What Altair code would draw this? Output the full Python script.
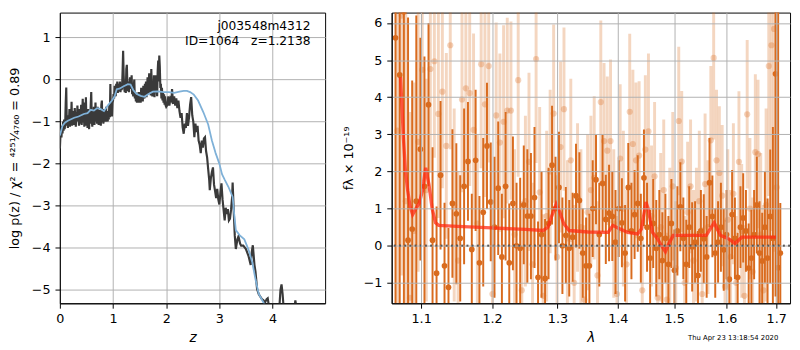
import altair as alt
import pandas as pd

# ---------------- left panel: log p(z) ----------------
# (z, log p(z))
pz_points = [
    (0.00, -1.64), (0.01, -1.35), (0.02, -1.25), (0.03, -1.38), (0.04, -1.10),
    (0.05, -1.28), (0.06, -1.00), (0.07, -1.22), (0.08, -0.95), (0.09, -1.18),
    (0.10, -1.05), (0.11, -0.55), (0.12, -0.19), (0.13, -1.10), (0.14, -0.90),
    (0.15, -1.15), (0.16, -0.85), (0.17, -1.05), (0.18, -0.70), (0.19, -1.12),
    (0.20, -0.88), (0.21, -1.00), (0.22, -0.53), (0.23, -1.10), (0.24, -0.80),
    (0.25, -1.02), (0.26, -0.75), (0.27, -1.08), (0.28, -0.68), (0.29, -0.95),
    (0.30, -1.12), (0.31, -0.78), (0.32, -1.00), (0.33, -0.62), (0.34, -0.98),
    (0.35, -0.85), (0.36, -1.10), (0.37, -0.70), (0.38, -1.05), (0.39, -0.90),
    (0.40, -0.60), (0.41, -1.08), (0.42, -0.80), (0.43, -0.46), (0.44, -1.02),
    (0.45, -0.72), (0.46, -1.12), (0.47, -0.55), (0.48, -0.95), (0.49, -0.42),
    (0.50, -1.10), (0.51, -0.85), (0.52, -1.15), (0.53, -0.70), (0.54, -1.00),
    (0.55, -1.18), (0.56, -0.75), (0.57, -1.05), (0.58, -0.60), (0.59, -0.30),
    (0.60, -0.95), (0.61, -1.12), (0.62, -0.78), (0.63, -1.05), (0.64, -0.65),
    (0.65, -1.08), (0.66, -0.90), (0.67, -0.55), (0.68, -1.00), (0.69, -0.80),
    (0.70, -1.05), (0.71, -0.65), (0.72, -0.95), (0.73, -1.08), (0.74, -0.72),
    (0.75, -1.00), (0.76, -0.85), (0.77, -1.10), (0.78, -0.60), (0.79, -0.50),
    (0.80, -1.02), (0.81, -0.80), (0.82, -1.05), (0.83, -0.70), (0.84, -0.98),
    (0.85, -0.88), (0.86, -1.00), (0.87, -0.65), (0.88, -0.95), (0.89, -0.90),
    (0.90, -1.00), (0.91, -0.75), (0.92, -0.95), (0.93, -0.60), (0.94, -0.90),
    (0.95, -0.11), (0.96, -0.85), (0.97, -0.70), (0.98, -0.88), (0.99, -0.55),
    (1.00, -0.50), (1.01, -0.35), (1.02, -0.45), (1.03, -0.15), (1.04, -0.30),
    (1.05, -0.40), (1.06, -0.10), (1.07, -0.30), (1.08, -0.05), (1.09, -0.32),
    (1.10, -0.10), (1.11, -0.28), (1.12, -0.22), (1.13, -0.05), (1.14, -0.30),
    (1.15, -0.12), (1.16, -0.25), (1.17, -0.20), (1.18, 0.20), (1.19, 0.68),
    (1.20, 0.10), (1.21, -0.20), (1.22, -0.30), (1.23, -0.10), (1.24, -0.32),
    (1.25, 0.25), (1.26, 0.35), (1.27, -0.15), (1.28, -0.28), (1.29, -0.05),
    (1.30, -0.30), (1.31, -0.10), (1.32, 0.05), (1.33, -0.22), (1.34, -0.15),
    (1.35, 0.10), (1.36, -0.35), (1.37, -0.20), (1.38, -0.40), (1.39, -0.15),
    (1.40, 0.00), (1.41, -0.45), (1.42, -0.30), (1.43, -0.52), (1.44, -0.35),
    (1.45, -0.55), (1.46, -0.40), (1.47, -0.50), (1.48, -0.30), (1.49, -0.55),
    (1.50, -0.45), (1.51, -0.30), (1.52, -0.55), (1.53, -0.20), (1.54, -0.48),
    (1.55, -0.35), (1.56, -0.52), (1.57, -0.15), (1.58, -0.40), (1.59, -0.45),
    (1.60, -0.10), (1.61, -0.38), (1.62, -0.05), (1.63, -0.42), (1.64, -0.20),
    (1.65, 0.05), (1.66, -0.35), (1.67, -0.25), (1.68, 0.15), (1.69, -0.30),
    (1.70, -0.10), (1.71, -0.38), (1.72, 0.25), (1.73, -0.20), (1.74, -0.40),
    (1.75, -0.05), (1.76, -0.35), (1.77, 0.10), (1.78, -0.42), (1.79, -0.20),
    (1.80, 0.10), (1.81, -0.30), (1.82, -0.15), (1.83, -0.40), (1.84, 0.20),
    (1.85, 0.45), (1.86, -0.05), (1.87, 0.57), (1.88, 0.30), (1.89, -0.20),
    (1.90, -0.10), (1.91, -0.45), (1.92, -0.20), (1.93, -0.50), (1.94, -0.30),
    (1.95, -0.55), (1.96, -0.35), (1.97, -0.60), (1.98, -0.40), (1.99, -0.62),
    (2.00, -0.65), (2.02, -0.61), (2.04, -0.40), (2.06, -0.62), (2.08, -0.45),
    (2.10, -0.50), (2.11, -0.23), (2.13, -0.58), (2.15, -0.40), (2.17, -0.62),
    (2.19, -0.45), (2.21, -0.68), (2.23, -0.50), (2.25, -0.75), (2.27, -0.91),
    (2.29, -0.80), (2.31, -1.14), (2.33, -1.29), (2.35, -1.05), (2.37, -1.15),
    (2.39, -0.80), (2.41, -1.10), (2.43, -0.90), (2.45, -0.60), (2.47, -0.42),
    (2.49, -0.85), (2.51, -1.00), (2.53, -1.37), (2.55, -1.05), (2.57, -1.25),
    (2.59, -1.10), (2.61, -1.45), (2.63, -1.55), (2.65, -1.75), (2.67, -1.45),
    (2.69, -1.62), (2.71, -1.40), (2.73, -1.37), (2.75, -1.70), (2.77, -1.85),
    (2.79, -2.13), (2.81, -2.40), (2.82, -2.63), (2.84, -2.35), (2.86, -2.20),
    (2.88, -2.09), (2.90, -2.50), (2.92, -2.65), (2.94, -2.82), (2.96, -2.60),
    (2.98, -2.85), (3.00, -2.97), (3.02, -2.70), (3.04, -2.47), (3.06, -2.85),
    (3.08, -3.10), (3.10, -3.35), (3.12, -3.05), (3.14, -3.20), (3.16, -3.08),
    (3.18, -3.35), (3.20, -3.31), (3.22, -3.10), (3.24, -2.80), (3.25, -2.45),
    (3.27, -3.10), (3.29, -3.70), (3.31, -4.03), (3.34, -3.80), (3.36, -3.73),
    (3.39, -3.90), (3.41, -3.95), (3.45, -3.95), (3.50, -4.03), (3.55, -4.20),
    (3.59, -4.41), (3.61, -4.10), (3.63, -3.94), (3.66, -4.40), (3.68, -4.57),
    (3.71, -4.98), (3.74, -5.10), (3.76, -5.14), (3.80, -5.22), (3.83, -5.25),
    (3.86, -5.30), (3.89, -5.22), (3.91, -5.20), (3.94, -5.45), (3.98, -5.80),
    (4.05, -6.00), (4.12, -5.60), (4.15, -5.00), (4.17, -4.87), (4.19, -5.10),
    (4.22, -5.60), (4.30, -6.00), (4.40, -5.60), (4.43, -5.25), (4.46, -5.50),
    (4.50, -6.00),
]
# smooth template curve (light blue)
tmpl_z = [
    0.00, 0.05, 0.10, 0.15, 0.20, 0.27, 0.35, 0.45, 0.52, 0.58,
    0.64, 0.70, 0.76, 0.83, 0.90, 0.98, 1.03, 1.07, 1.12, 1.20,
    1.28, 1.33, 1.38, 1.44, 1.52, 1.59, 1.66, 1.75, 1.85, 1.95,
    2.05, 2.15, 2.25, 2.33, 2.39, 2.45, 2.52, 2.60, 2.70, 2.79,
    2.86, 2.93, 3.00, 3.05, 3.10, 3.17, 3.25, 3.28, 3.31, 3.38,
    3.47, 3.55, 3.62, 3.68, 3.74, 3.83, 3.90, 4.00,
]
tmpl_logp = [
    -1.33, -1.10, -1.02, -0.98, -0.95, -0.91, -0.88, -0.82, -0.80, -0.72,
    -0.74, -0.68, -0.70, -0.75, -0.62, -0.50, -0.40, -0.23, -0.22, -0.16,
    -0.11, -0.12, -0.25, -0.34, -0.39, -0.41, -0.35, -0.29, -0.28, -0.30,
    -0.30, -0.32, -0.29, -0.27, -0.27, -0.30, -0.36, -0.50, -0.78, -1.07,
    -1.45, -1.75, -2.00, -2.25, -2.38, -2.55, -2.79, -3.20, -3.58, -3.70,
    -3.80, -4.05, -4.35, -4.75, -5.09, -5.30, -5.45, -5.70,
]
z_ticks = [0, 1, 2, 3, 4]
logp_ticks = [-5, -4, -3, -2, -1, 0, 1]
label_name = "j003548m4312"
label_id = "ID=1064\u00a0\u00a0\u00a0z=1.2138"

# ---------------- right panel: spectrum ----------------
lam_a = [
    1.066, 1.0715, 1.077, 1.0825, 1.088, 1.0935, 1.099, 1.1045, 1.11, 1.1155,
    1.121, 1.1265, 1.132, 1.1375, 1.143, 1.1485, 1.154, 1.1595, 1.165, 1.1705,
    1.176, 1.1815, 1.187, 1.1925, 1.198, 1.2035, 1.209, 1.2145, 1.22, 1.2255,
    1.231, 1.2365, 1.242, 1.2475, 1.253, 1.2585, 1.264, 1.2695, 1.275, 1.2805,
    1.286, 1.2915, 1.297, 1.3025, 1.308, 1.3135, 1.319, 1.3245, 1.33, 1.3355,
    1.341, 1.3465, 1.352, 1.3575, 1.363, 1.3685, 1.374, 1.3795, 1.385, 1.3905,
    1.396, 1.4015, 1.407, 1.4125, 1.418, 1.4235, 1.429, 1.4345, 1.44, 1.4455,
    1.451, 1.4565, 1.462, 1.4675, 1.473, 1.4785, 1.484, 1.4895, 1.495, 1.5005,
    1.506, 1.5115, 1.517, 1.5225, 1.528, 1.5335, 1.539, 1.5445, 1.55, 1.5555,
    1.561, 1.5665, 1.572, 1.5775, 1.583, 1.5885, 1.594, 1.5995, 1.605, 1.6105,
    1.616, 1.6215, 1.627, 1.6325, 1.638, 1.6435, 1.649, 1.6545, 1.66, 1.6655,
    1.671, 1.6765, 1.682, 1.6875, 1.693, 1.6985, 1.704, 1.7085,
]
flux_a = [
    5.6, 4.6, 6.3, 0.15, 0.45, 1.2, 2.6, 1.6, 3.8, 0.15,
    -0.74, 1.9, -0.54, -1.12, 1.14, 0.86, 0.2, 1.6, 2.27, -0.1,
    2.3, -0.46, 0.9, 2.69, 1.18, 0.5, 1.55, -0.3, 1.6, -0.46,
    1.14, 0.0, -0.07, 1.1, 0.8, 0.8, 1.3, -0.85, 0.3, -0.88,
    0.6, 2.17, 1.0, 1.57, 0.0, 0.28, -0.07, 0.23, 1.35, 1.22,
    -0.2, -0.54, -0.54, 1.0, 1.78, 0.3, 1.68, 0.71, 0.88, 0.79,
    0.1, 1.0, 0.62, -0.2, 1.57, 0.4, 0.84, 1.14, 0.2, 1.83,
    0.5, -0.33, 0.6, -0.07, 0.3, -0.4, 0.2, -0.5, 0.6, -0.66,
    0.4, 1.05, 0.2, -0.5, 0.5, -0.03, 0.1, -0.8, 0.4, 0.19,
    -0.3, 1.7, 0.79, -0.2, 0.1, 0.5, -0.11, 0.3, -0.9, 0.84,
    0.2, -0.85, 0.5, 0.75, 0.4, -0.6, -0.33, 0.3, 1.1, -0.2,
    -0.41, 0.5, -0.33, 0.79, 0.2, 4.63, -0.59, -0.2,
]
err_a = [
    8, 7, 8, 6, 4, 5, 3, 3.5, 2.2, 2.5,
    1.8, 2.0, 1.7, 1.6, 2.0, 1.9, 1.7, 2.1, 1.6, 1.5,
    1.9, 1.8, 2.0, 1.7, 1.6, 1.9, 1.8, 1.7, 2.0, 1.6,
    1.8, 1.7, 1.9, 1.6, 1.8, 1.7, 1.9, 1.5, 1.7, 1.6,
    1.5, 1.6, 1.4, 1.5, 1.3, 1.3, 1.3, 1.2, 1.4, 1.3,
    1.2, 1.3, 1.4, 1.3, 1.2, 1.4, 1.3, 1.2, 1.3, 1.2,
    1.4, 1.3, 1.2, 1.3, 1.2, 1.3, 1.2, 1.3, 1.2, 1.3,
    1.2, 1.3, 1.2, 1.3, 1.2, 1.3, 1.2, 1.3, 1.2, 1.1,
    1.2, 1.2, 1.1, 1.2, 1.1, 1.2, 1.1, 1.2, 1.1, 1.2,
    1.1, 1.2, 1.1, 1.2, 1.1, 1.2, 1.1, 1.2, 1.1, 1.2,
    1.1, 1.2, 1.1, 1.2, 1.1, 1.2, 1.3, 1.2, 1.3, 1.4,
    1.3, 1.5, 1.6, 1.8, 3.0, 6, 8, 1.35,
]
lam_b = [
    1.0685, 1.074, 1.0795, 1.085, 1.0905, 1.096, 1.1015, 1.107, 1.1125, 1.118,
    1.1235, 1.129, 1.1345, 1.14, 1.1455, 1.151, 1.1565, 1.162, 1.1675, 1.173,
    1.1785, 1.184, 1.1895, 1.195, 1.2005, 1.206, 1.2115, 1.217, 1.2225, 1.228,
    1.2335, 1.239, 1.2445, 1.25, 1.2555, 1.261, 1.2665, 1.272, 1.2775, 1.283,
    1.2885, 1.294, 1.2995, 1.305, 1.3105, 1.316, 1.3215, 1.327, 1.3325, 1.338,
    1.3435, 1.349, 1.3545, 1.36, 1.3655, 1.371, 1.3765, 1.382, 1.3875, 1.393,
    1.3985, 1.404, 1.4095, 1.415, 1.4205, 1.426, 1.4315, 1.437, 1.4425, 1.448,
    1.4535, 1.459, 1.4645, 1.47, 1.4755, 1.481, 1.4865, 1.492, 1.4975, 1.503,
    1.5085, 1.514, 1.5195, 1.525, 1.5305, 1.536, 1.5415, 1.547, 1.5525, 1.558,
    1.5635, 1.569, 1.5745, 1.58, 1.5855, 1.591, 1.5965, 1.602, 1.6075, 1.613,
    1.6185, 1.624, 1.6295, 1.635, 1.6405, 1.646, 1.6515, 1.657, 1.6625, 1.668,
    1.6735, 1.679, 1.6845, 1.69, 1.6955, 1.701,
]
flux_b = [
    3.1, 6.2, 1.2, -1.4, 0.4, 2.8, 4.74, 1.5, 4.76, 4.97,
    3.55, 4.15, 2.69, 5.4, 1.1, -0.4, 3.94, 4.24, 4.11, 3.12,
    0.6, 4.89, 3.81, 4.84, -1.3, 3.51, 2.78, 3.34, 3.64, 3.64,
    0.3, 4.46, -1.2, 1.2, 2.26, -0.5, 5.03, 1.44, -1.35, 0.8,
    2.0, 3.56, -0.3, 2.66, 3.68, 0.2, 2.3, -1.0, 1.3, 0.5,
    -1.45, 0.9, 1.5, 1.83, -0.8, 3.87, 2.82, 2.56, 2.82, 0.6,
    -1.3, 2.35, 1.0, -0.5, 3.61, 2.74, 2.3, 2.43, -1.2, 2.59,
    3.08, 0.8, 1.87, -1.4, 0.5, 1.5, -1.45, 0.2, 1.6, -0.6,
    3.36, 2.27, -1.0, 0.9, 1.6, -0.4, 0.3, 1.2, -1.3, 1.66,
    0.5, 2.84, 5.06, 2.3, 1.96, 1.35, -1.1, 0.7, -0.3, 1.4,
    -1.0, 2.26, 0.4, -1.35, 3.54, 1.0, -0.7, 2.52, 2.47, 0.3,
    -1.2, 1.1, 4.84, 5.4, 5.84, 1.57,
]
err_b = [
    7, 7, 6, 5, 4, 3.5, 3, 3, 2.8, 2.6,
    2.8, 2.6, 2.5, 2.8, 2.6, 2.4, 2.5, 2.7, 2.5, 2.6,
    2.4, 2.8, 2.5, 2.6, 2.3, 2.5, 2.4, 2.6, 2.5, 2.4,
    2.3, 2.6, 2.4, 2.3, 2.4, 2.2, 2.8, 2.3, 2.2, 2.3,
    2.2, 2.4, 2.2, 2.3, 2.2, 2.1, 2.2, 2.1, 2.0, 2.1,
    2.0, 2.1, 2.0, 2.2, 2.0, 2.2, 2.1, 2.0, 2.2, 2.0,
    2.1, 2.0, 2.1, 2.0, 2.1, 2.0, 2.1, 2.0, 1.9, 2.0,
    2.1, 1.9, 2.0, 1.9, 2.0, 1.9, 1.8, 1.9, 2.0, 1.8,
    2.0, 1.9, 1.8, 1.9, 1.8, 1.9, 1.8, 1.9, 1.8, 1.9,
    1.8, 2.0, 2.2, 1.9, 1.8, 1.9, 1.8, 1.9, 1.8, 1.9,
    1.8, 1.9, 1.8, 1.9, 2.0, 1.9, 2.0, 2.1, 2.0, 2.2,
    2.3, 2.6, 3.5, 5, 6, 7,
]
model_lam = [
    1.0726, 1.0765, 1.0791, 1.0821, 1.0852, 1.0886, 1.0930, 1.0974, 1.1020, 1.1062,
    1.1106, 1.1150, 1.1196, 1.1240, 1.1500, 1.2000, 1.2500, 1.2774, 1.2850, 1.2910,
    1.2980, 1.3040, 1.3100, 1.3188, 1.3500, 1.3835, 1.3915, 1.4000, 1.4170, 1.4345,
    1.4410, 1.4460, 1.4490, 1.4530, 1.4606, 1.4696, 1.4770, 1.4840, 1.4900, 1.4983,
    1.5603, 1.5754, 1.5877, 1.6033, 1.6163, 1.6297, 1.7000,
]
model_flux = [
    4.54, 2.86, 2.0, 1.48, 1.06, 0.84, 1.0, 1.14, 1.5, 2.1,
    1.65, 1.0, 0.62, 0.55, 0.52, 0.48, 0.44, 0.41, 0.5, 0.8,
    1.12, 0.9, 0.6, 0.41, 0.37, 0.36, 0.55, 0.48, 0.36, 0.32,
    0.45, 0.9, 1.18, 1.0, 0.36, 0.19, 0.0, -0.16, 0.05, 0.28,
    0.28, 0.62, 0.28, 0.19, 0.06, 0.23, 0.23,
]
lam_ticks = [1.1, 1.2, 1.3, 1.4, 1.5, 1.6, 1.7]
flux_ticks = [-1, 0, 1, 2, 3, 4, 5, 6]
stamp = "Thu Apr 23 13:18:54 2020"

FONT = "DejaVu Sans"
ORANGE = "#d96b1e"
YTITLE_L = "log p(z) / χ² = ⁴²⁵¹⁄₄₇₆₀ = 0.89"
YTITLE_R = "fλ × 10⁻¹⁹"


def zx():
    return alt.X("z:Q", scale=alt.Scale(domain=[0, 4.99], nice=False, zero=False),
                 axis=alt.Axis(values=z_ticks, format="d", title="z", titleFontStyle="italic"))


def zy(field="logp"):
    return alt.Y(f"{field}:Q", scale=alt.Scale(domain=[-5.32, 1.59], nice=False, zero=False),
                 axis=alt.Axis(values=logp_ticks, format="d", title=YTITLE_L, titlePadding=10,
                               titleFontSize=13))


def lx():
    return alt.X("lam:Q", scale=alt.Scale(type="log", domain=[1.061, 1.729], nice=False),
                 axis=alt.Axis(values=lam_ticks, format=".1f", title="λ", titleFontStyle="italic",
                               zindex=1))


def ly(field):
    return alt.Y(f"{field}:Q", scale=alt.Scale(domain=[-1.55, 6.28], nice=False, zero=False),
                 axis=alt.Axis(values=flux_ticks, format="d", title=YTITLE_R, titlePadding=8,
                               titleFontSize=13, zindex=1))


pz_df = pd.DataFrame({"z": [p[0] for p in pz_points], "logp": [p[1] for p in pz_points]})
tm_df = pd.DataFrame({"z": tmpl_z, "logp": tmpl_logp})

pz_line = alt.Chart(pz_df).mark_line(color="#3a3a3a", strokeWidth=2.2, clip=True).encode(x=zx(), y=zy())
tm_line = alt.Chart(tm_df).mark_line(color="#7fb1d8", strokeWidth=1.8, clip=True).encode(x=zx(), y=zy())
txt1 = alt.Chart(pd.DataFrame({"t": [label_name]})).mark_text(
    align="right", baseline="middle", font=FONT, fontSize=12.5, color="black"
).encode(x=alt.value(256), y=alt.value(14), text="t:N")
txt2 = alt.Chart(pd.DataFrame({"t": [label_id]})).mark_text(
    align="right", baseline="middle", font=FONT, fontSize=12.5, color="black"
).encode(x=alt.value(256), y=alt.value(29), text="t:N")

left = alt.layer(pz_line, tm_line, txt1, txt2).properties(width=271, height=297)

a_df = pd.DataFrame({"lam": lam_a, "flux": flux_a, "err": err_a})
b_df = pd.DataFrame({"lam": lam_b, "flux": flux_b, "err": err_b})
m_df = pd.DataFrame({"lam": model_lam, "flux": model_flux})

b_bars = alt.Chart(b_df).transform_calculate(
    lo="datum.flux - datum.err", hi="datum.flux + datum.err"
).mark_rule(color=ORANGE, opacity=0.28, strokeWidth=3, clip=True).encode(x=lx(), y=ly("lo"), y2="hi:Q")
b_pts = alt.Chart(b_df).mark_circle(color=ORANGE, opacity=0.3, size=40, clip=True).encode(x=lx(), y=ly("flux"))
a_bars = alt.Chart(a_df).transform_calculate(
    lo="datum.flux - datum.err", hi="datum.flux + datum.err"
).mark_rule(color=ORANGE, opacity=1, strokeWidth=2, clip=True).encode(x=lx(), y=ly("lo"), y2="hi:Q")
a_pts = alt.Chart(a_df).mark_circle(color=ORANGE, opacity=1, size=34, clip=True).encode(x=lx(), y=ly("flux"))
model = alt.Chart(m_df).mark_line(color="#ff2a12", opacity=0.75, strokeWidth=3.4, clip=True).encode(
    x=lx(), y=ly("flux"))
zero = alt.Chart(pd.DataFrame({"y0": [0.0]})).mark_rule(
    color="#111111", strokeDash=[2, 3.3], strokeWidth=2
).encode(y=ly("y0"))
stamp_txt = alt.Chart(pd.DataFrame({"t": [stamp]})).mark_text(
    align="right", baseline="middle", font=FONT, fontSize=7, color="black"
).encode(x=alt.value(395), y=alt.value(333), text="t:N")

right = alt.layer(b_bars, b_pts, a_bars, a_pts, model, zero, stamp_txt).properties(width=407, height=297)

chart = alt.hconcat(left, right, spacing=16).properties(
    padding={"left": 0, "top": 0, "right": 0, "bottom": 0}
).configure_view(
    stroke="black", strokeWidth=1
).configure_axis(
    labelFont=FONT, labelFontSize=13, labelColor="black", labelPadding=5, labelFlush=False,
    titleFont=FONT, titleFontSize=14, titleFontWeight="normal", titleColor="black",
    tickColor="black", tickSize=5, tickWidth=1, domainColor="black", domainWidth=1,
    gridColor="#b0b0b0", gridWidth=1,
).configure_axisX(titlePadding=5)

chart.save("out.html", embed_options={"renderer": "svg", "actions": False})
